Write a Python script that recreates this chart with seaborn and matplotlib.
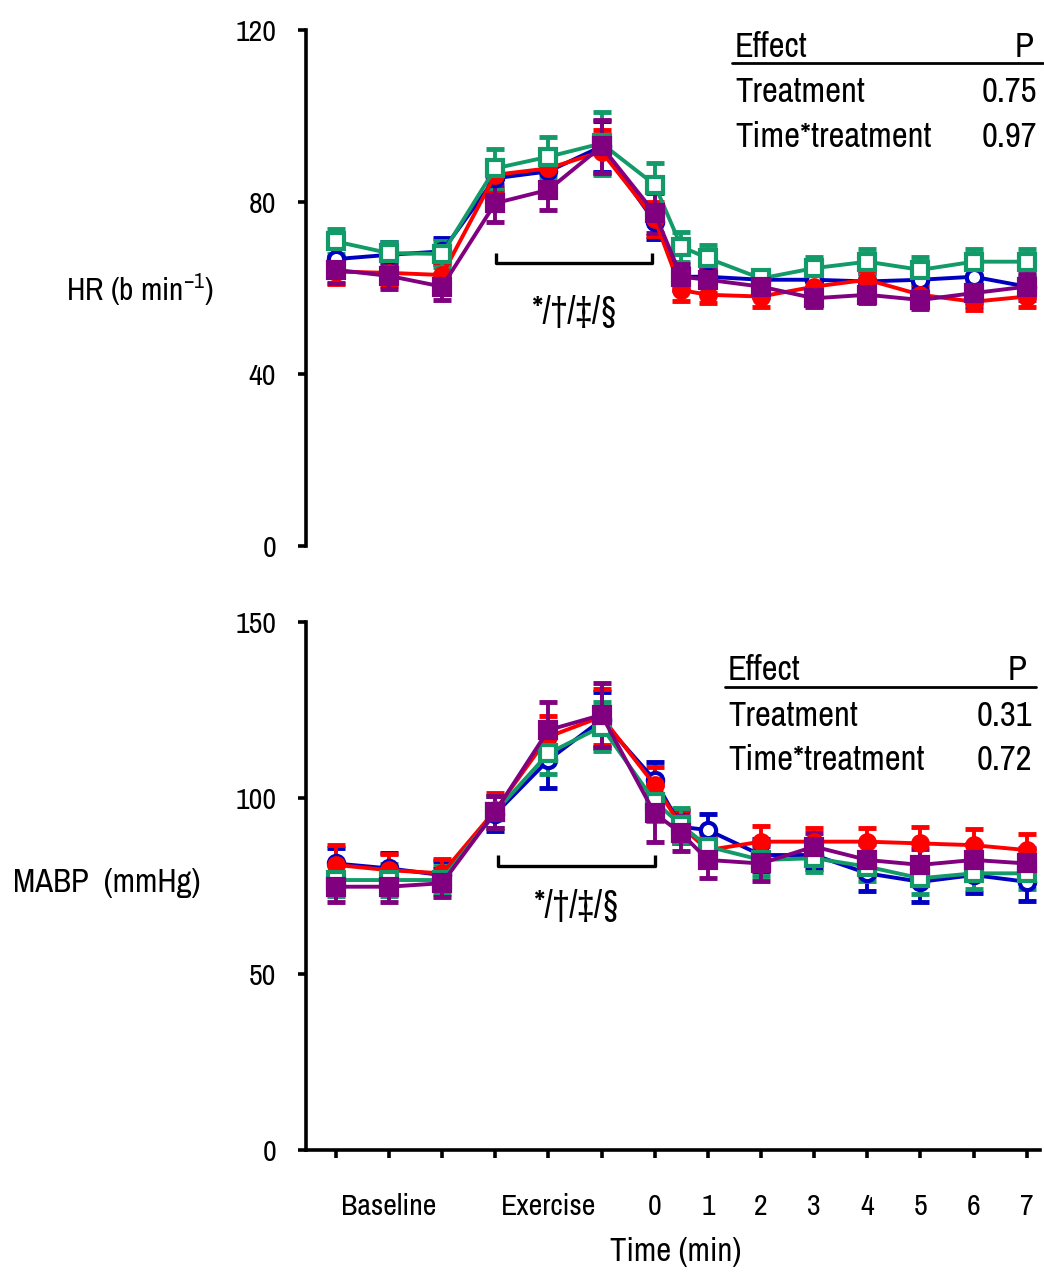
import numpy as np
import pandas as pd
import matplotlib
matplotlib.use("Agg")
import matplotlib.pyplot as plt
from matplotlib import font_manager
from matplotlib.lines import Line2D
import seaborn as sns

# ---- data -------------------------------------------------------------
positions = [0, 1, 2, 3, 4, 5, 6, 6.5, 7, 8, 9, 10, 11, 12, 13]
tick_positions = list(range(14))
tick_labels = ["", "Baseline", "", "", "Exercise", "", "0", "1", "2", "3",
               "4", "5", "6", "7"]
groups = ["blue", "red", "green", "purple"]

hr_blue = [66.7, 67.7, 68.5, 85.5, 87.1, 92.9, 75.4, 62.6, 62.6, 61.9, 61.9, 61.5, 61.9, 62.6, 60.3]
hr_red = [63.8, 63.5, 63.0, 86.3, 87.8, 91.7, 76.0, 59.5, 58.4, 58.0, 60.3, 61.9, 58.4, 56.8, 58.0]
hr_green = [70.8, 68.1, 67.9, 87.8, 90.5, 93.6, 84.0, 69.6, 66.9, 62.2, 64.6, 66.1, 64.2, 66.1, 66.1]
hr_purple = [64.2, 62.8, 60.3, 79.7, 82.8, 92.9, 77.4, 62.6, 61.9, 60.3, 57.6, 58.4, 57.2, 58.8, 60.3]

hr_sem_blue = [3, 3, 3, 3, 4, 6, 4, 2, 2, 2, 2, 2, 2, 2, 2]
hr_sem_red = [3, 3, 3, 3.5, 4, 5, 4, 2.5, 2, 2.5, 2, 2, 2.5, 2, 2.5]
hr_sem_green = [3, 2.5, 3, 4.5, 4.7, 7.4, 5, 3.5, 3, 2, 2.5, 3, 3, 3, 3]
hr_sem_purple = [3, 3, 3, 4.3, 4.7, 6.2, 4.6, 3, 3, 2.5, 2, 2, 2, 3, 3]

mabp_blue = [81.4, 80.0, 78.1, 95.5, 110.8, 122.2, 105.1, 91.8, 90.9, 83.8, 83.8, 78.6, 76.2, 78.1, 76.2]
mabp_red = [81.0, 79.5, 78.6, 96.5, 117.4, 123.1, 103.7, 92.0, 85.2, 87.6, 87.6, 87.6, 87.1, 86.6, 85.2]
mabp_green = [76.7, 76.7, 76.7, 96.0, 112.7, 120.3, 99.0, 92.3, 86.2, 82.4, 82.9, 80.5, 77.2, 78.6, 78.6]
mabp_purple = [74.8, 74.8, 75.8, 96.1, 119.3, 123.6, 95.6, 90.0, 82.4, 81.4, 86.2, 82.4, 81.0, 82.4, 81.4]

mabp_sem_blue = [4.5, 4.5, 4, 5, 8, 8, 5.2, 4.5, 4.5, 4.5, 4, 5, 5.7, 5, 5.5]
mabp_sem_red = [5.6, 4.5, 4, 5, 6, 8, 5, 4.5, 4.5, 4.5, 4, 4, 4.7, 4.5, 4.7]
mabp_sem_green = [4.5, 4.5, 4, 4.5, 6, 7, 5.5, 5, 4.5, 4.5, 4, 4, 4.5, 4.5, 4.5]
mabp_sem_purple = [4.3, 4.3, 4, 4.5, 8, 9, 8, 5, 5, 5, 4, 4.5, 4.5, 4.5, 4.5]

hr_effects = ["Treatment", "Time*treatment"]
hr_p = ["0.75", "0.97"]
mabp_effects = ["Treatment", "Time*treatment"]
mabp_p = ["0.31", "0.72"]

# ---- style ------------------------------------------------------------
sns.set_theme(style="white")
available = {f.name for f in font_manager.fontManager.ttflist}
family = "Liberation Sans"
for cand in ["Liberation Sans Narrow", "Archivo Narrow"]:
    if cand in available:
        family = cand
        break
plt.rcParams["font.family"] = [family, "DejaVu Sans"]
plt.rcParams["mathtext.fontset"] = "custom"
plt.rcParams["mathtext.rm"] = family
for key in ["text.color", "axes.labelcolor", "xtick.color", "ytick.color"]:
    plt.rcParams[key] = "black"

TICK_FS = 21.5
LABEL_FS = 22.5
TABLE_FS = 25

colors = {"blue": "#0000C0", "red": "#FF0000", "green": "#129A68", "purple": "#800080"}
marker_style = {
    "blue": dict(marker="o", markersize=11, markerfacecolor="white"),
    "red": dict(marker="o", markersize=10.5, markerfacecolor="#FF0000"),
    "green": dict(marker="s", markersize=11.5, markerfacecolor="white"),
    "purple": dict(marker="s", markersize=11.5, markerfacecolor="#800080"),
}


def long_frame(series, sems):
    rows = []
    for g, vals, errs in zip(groups, series, sems):
        for p, v, e in zip(positions, vals, errs):
            rows.append({"time": p, "value": v, "sem": e, "group": g})
    return pd.DataFrame(rows)


def draw_series(ax, df):
    for g in groups:
        sub = df[df["group"] == g]
        c = colors[g]
        ax.errorbar(sub["time"], sub["value"], yerr=sub["sem"], fmt="none",
                    ecolor=c, elinewidth=2.8, capsize=6.5, capthick=3.5, zorder=2)
        sns.lineplot(data=sub, x="time", y="value", ax=ax, color=c,
                     linewidth=2.8, markeredgecolor=c, markeredgewidth=3.0,
                     legend=False, zorder=3, **marker_style[g])


def style_axis(ax):
    ax.set_xlim(-0.56, 13.25)
    for s in ["top", "right"]:
        ax.spines[s].set_visible(False)
    for s in ["left", "bottom"]:
        ax.spines[s].set_color("black")
        ax.spines[s].set_linewidth(2.6)
    ax.tick_params(axis="y", direction="out", length=5.5, width=2.6,
                   colors="black", labelsize=TICK_FS, pad=16, left=True)
    ax.grid(False)


def effect_table(ax, x0, x1, xv, y_head, y_line, y_rows, effects, pvals):
    ax.text(x0, y_head, "Effect", fontsize=TABLE_FS, ha="left", va="center")
    ax.text(x1 - 0.12, y_head, "P", fontsize=TABLE_FS, ha="right", va="center")
    ax.add_line(Line2D([x0 - 0.05, x1 + 0.05], [y_line, y_line], color="black",
                       linewidth=2.0, clip_on=False))
    for yr, name, p in zip(y_rows, effects, pvals):
        ax.text(x0, yr, name, fontsize=TABLE_FS, ha="left", va="center")
        ax.text(xv, yr, p, fontsize=TABLE_FS, ha="right", va="center")


def bracket(ax, xa, xb, ytop, ybot, ytext):
    ax.plot([xa, xa, xb, xb], [ytop, ybot, ybot, ytop], color="black",
            linewidth=2.4, solid_capstyle="butt", zorder=1)
    ax.text((xa + xb) / 2, ytext, "*/\u2020/\u2021/\u00a7", fontsize=26,
            ha="center", va="center")


fig = plt.figure(figsize=(10.44, 12.72), dpi=100)
ax_hr = fig.add_axes([0.2931, 0.5708, 0.7031, 0.4057])
ax_bp = fig.add_axes([0.2931, 0.0959, 0.7031, 0.4151])

# ---- heart rate -------------------------------------------------------
hr_df = long_frame([hr_blue, hr_red, hr_green, hr_purple],
                   [hr_sem_blue, hr_sem_red, hr_sem_green, hr_sem_purple])
draw_series(ax_hr, hr_df)
style_axis(ax_hr)
ax_hr.spines["bottom"].set_visible(False)
ax_hr.set_ylim(0, 120)
ax_hr.set_yticks([0, 40, 80, 120])
ax_hr.set_xticks([])
ax_hr.set_xlabel("")
ax_hr.set_ylabel(r"HR (b min$^{-1}$)", fontsize=LABEL_FS, rotation=0,
                 ha="center", va="center")
ax_hr.yaxis.set_label_coords(-0.226, 0.496)
bracket(ax_hr, 3.01, 5.95, 68.1, 65.8, 54.4)
effect_table(ax_hr, 7.51, 13.25, 13.19, 116.0, 112.3, [105.6, 95.1],
             hr_effects, hr_p)

# ---- mean arterial blood pressure --------------------------------------
bp_df = long_frame([mabp_blue, mabp_red, mabp_green, mabp_purple],
                   [mabp_sem_blue, mabp_sem_red, mabp_sem_green, mabp_sem_purple])
draw_series(ax_bp, bp_df)
style_axis(ax_bp)
ax_bp.set_ylim(0, 150)
ax_bp.set_yticks([0, 50, 100, 150])
ax_bp.set_xticks(tick_positions)
ax_bp.set_xticklabels(tick_labels)
ax_bp.tick_params(axis="x", direction="out", length=6, width=2.6,
                  colors="black", labelsize=TICK_FS, pad=25, bottom=True)
ax_bp.set_ylabel("MABP  (mmHg)", fontsize=23.5, rotation=0,
                 ha="center", va="center")
ax_bp.yaxis.set_label_coords(-0.271, 0.506)
ax_bp.set_xlabel("Time (min)", fontsize=23.5, va="center")
ax_bp.xaxis.set_label_coords(0.504, -0.193)
bracket(ax_bp, 3.05, 6.0, 83.8, 80.7, 69.6)
effect_table(ax_bp, 7.38, 13.12, 13.1, 136.4, 131.5, [123.3, 110.8],
             mabp_effects, mabp_p)

fig.savefig("out.png", dpi=100)
